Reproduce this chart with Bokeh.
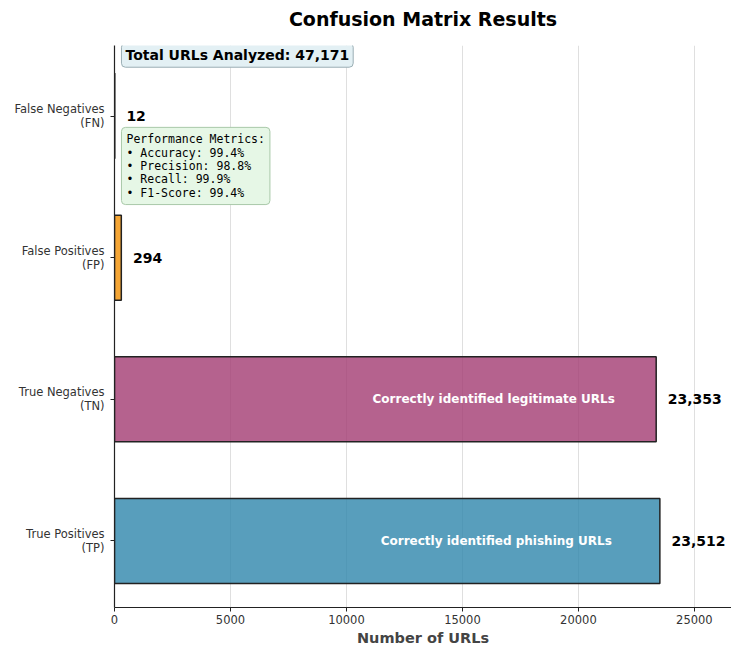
from bokeh.plotting import figure
from bokeh.models import FixedTicker, Label, ColumnDataSource, Title
from bokeh.core.properties import value
from bokeh.embed import file_html
from bokeh.resources import INLINE

title_text = "Confusion Matrix Results"
categories = ["True Positives\n(TP)", "True Negatives\n(TN)", "False Positives\n(FP)", "False Negatives\n(FN)"]
counts = [23512, 23353, 294, 12]
colors = ["#2E86AB", "#A23B72", "#F18F01", "#C73E1D"]
inner_texts = ["Correctly identified phishing URLs", "Correctly identified legitimate URLs", "", ""]
x_ticks = [0, 5000, 10000, 15000, 20000, 25000]
total_urls = 47171
metrics = [("Accuracy", 99.4), ("Precision", 98.8), ("Recall", 99.9), ("F1-Score", 99.4)]

FONT = "DejaVu Sans"
ypos = list(range(len(categories)))

p = figure(width=731, height=648, output_backend="svg", toolbar_location=None,
           x_range=(0, 26600), y_range=(-0.47, 3.498),
           min_border_left=114, min_border_right=0, min_border_top=43, min_border_bottom=40)
p.outline_line_color = None
p.background_fill_color = "white"
p.border_fill_color = "white"

# spacer between frame and title, then the title itself
p.add_layout(Title(text=" ", text_font=FONT, text_font_size="8px", standoff=0), "above")
p.add_layout(Title(text=title_text, text_font=FONT, text_font_size="19px",
                   text_font_style="bold", align="center", text_color="black"), "above")

src = ColumnDataSource(dict(y=ypos, right=counts, color=colors, label=categories))
p.hbar(y="y", left=0, right="right", height=0.6, fill_color="color", fill_alpha=0.8,
       line_color="#222222", line_width=1.5, source=src)

# value labels
val_src = ColumnDataSource(dict(x=[c + 500 for c in counts], y=ypos, t=[f"{c:,}" for c in counts]))
p.text(x="x", y="y", text="t", source=val_src, text_font=value(FONT), text_font_size="14px",
       text_font_style="bold", text_align="left", text_baseline="middle", text_color="black")

# inner labels
in_idx = [i for i, t in enumerate(inner_texts) if t]
in_src = ColumnDataSource(dict(x=[counts[i] * 0.7 for i in in_idx], y=[ypos[i] for i in in_idx],
                               t=[inner_texts[i] for i in in_idx]))
p.text(x="x", y="y", text="t", source=in_src, text_font=value(FONT), text_font_size="12px",
       text_font_style="bold", text_align="center", text_baseline="middle", text_color="white")

# axes
p.xaxis.ticker = FixedTicker(ticks=x_ticks)
p.xaxis.axis_label = "Number of URLs"
p.xaxis.axis_label_text_font = FONT
p.xaxis.axis_label_text_font_size = "14.5px"
p.xaxis.axis_label_text_font_style = "bold"
p.xaxis.axis_label_standoff = 3
p.yaxis.ticker = FixedTicker(ticks=ypos)
p.yaxis.major_label_overrides = {i: c for i, c in zip(ypos, categories)}
for ax in (p.xaxis, p.yaxis):
    ax.major_label_text_font = FONT
    ax.major_label_text_font_size = "11.5px"
    ax.major_label_text_color = "#333333"
    ax.axis_line_color = "#222222"
    ax.axis_line_width = 1.2
    ax.major_tick_line_color = "#222222"
    ax.major_tick_in = 0
    ax.major_tick_out = 4
    ax.minor_tick_line_color = None
    ax.major_label_standoff = 3
p.yaxis.major_label_text_align = "right"
p.yaxis.major_label_text_line_height = 1.0
p.yaxis.major_label_standoff = 6

p.xgrid.grid_line_color = "gray"
p.xgrid.grid_line_alpha = 0.25
p.ygrid.grid_line_color = None

# total box
total_lbl = Label(x=300, y=3.514, text=f"Total URLs Analyzed: {total_urls:,}",
                  text_font=FONT, text_font_size="14px", text_font_style="bold",
                  text_align="left", text_baseline="top", text_color="black",
                  background_fill_color="#e3f0f4", background_fill_alpha=1.0,
                  border_line_color="#9aaeb4", border_line_width=1,
                  padding=4, border_radius=4)
p.add_layout(total_lbl)

metric_text = "Performance Metrics:\n" + "\n".join(f"• {n}: {v}%" for n, v in metrics)
metric_lbl = Label(x=300, y=2.92, text=metric_text,
                   text_font="DejaVu Sans Mono", text_font_size="11.5px",
                   text_align="left", text_baseline="top", text_color="black",
                   text_line_height=0.95,
                   background_fill_color="#e6f7e6", background_fill_alpha=1.0,
                   border_line_color="#a8c8a8", border_line_width=1,
                   padding=5, border_radius=4)
p.add_layout(metric_lbl)

open("out.html", "w").write(file_html(p, INLINE))
